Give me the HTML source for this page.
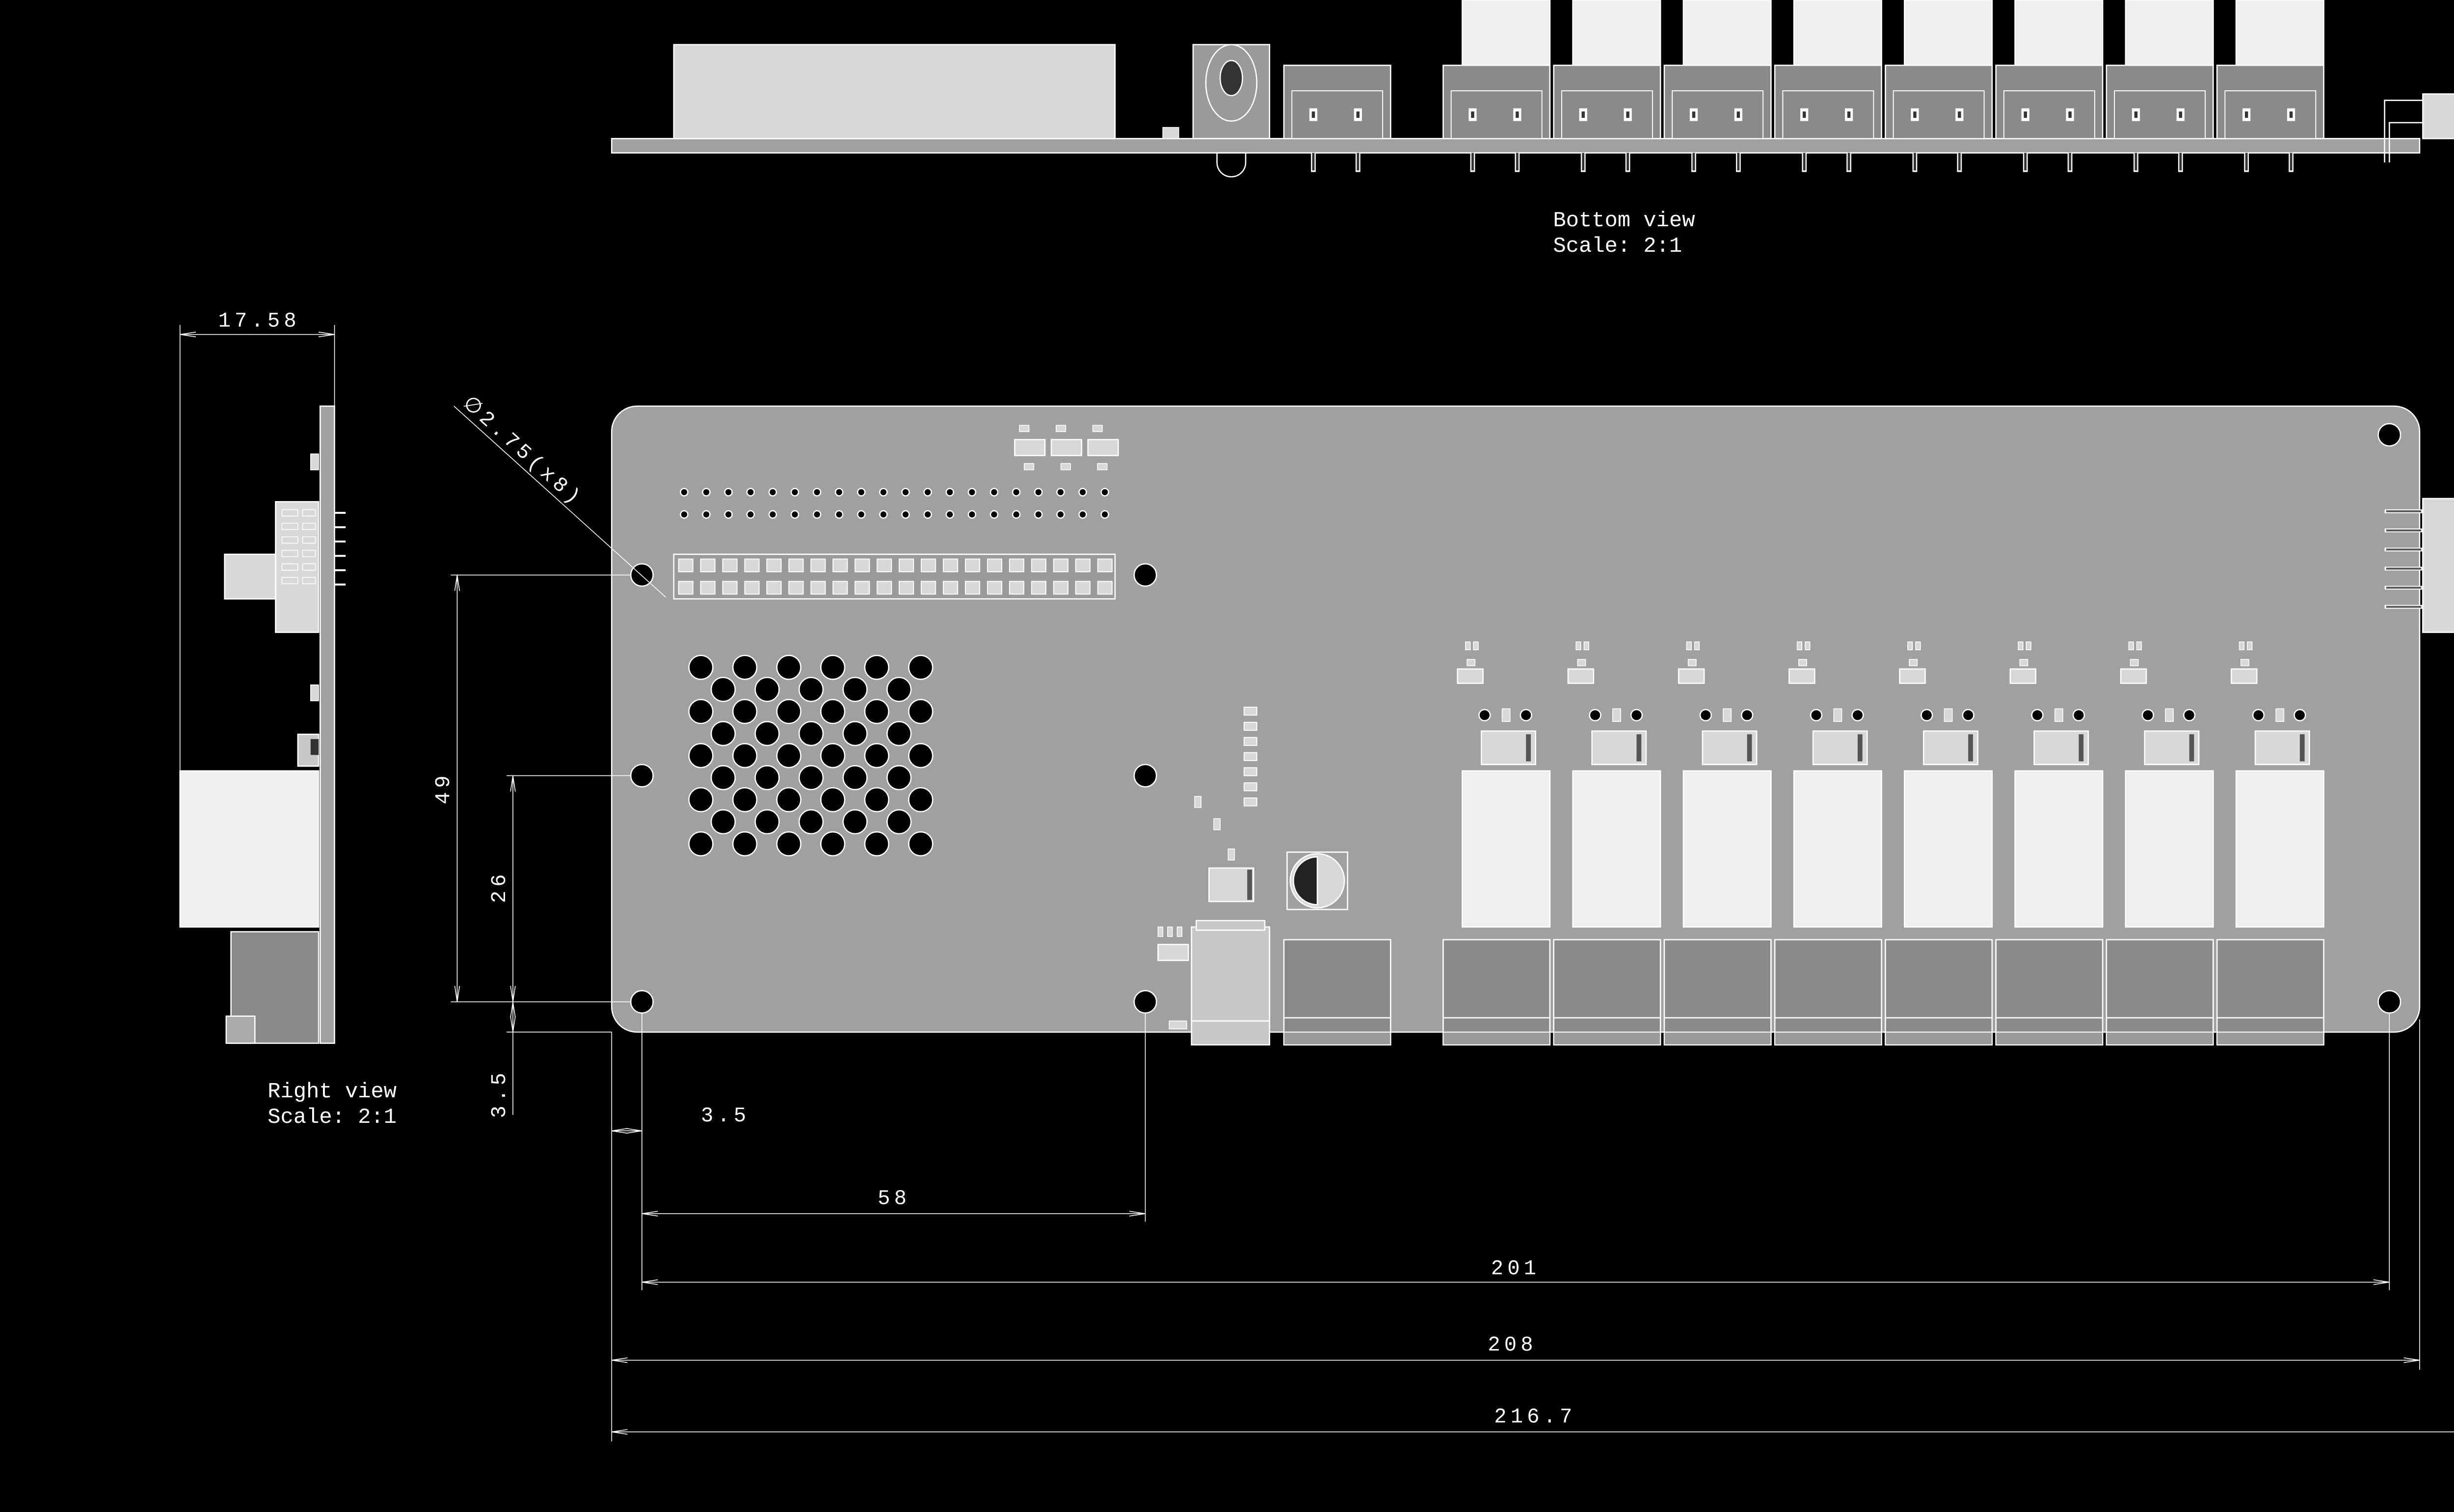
<!DOCTYPE html>
<html><head><meta charset="utf-8"><style>
html,body{margin:0;padding:0;background:#000;}
svg{display:block}
text{font-family:"Liberation Mono",monospace;fill:#fff;}
</style></head><body>
<svg id="s" width="5089" height="3081" viewBox="0 0 1568 949.3" xmlns="http://www.w3.org/2000/svg">
<defs><marker id="a" markerWidth="10" markerHeight="6" refX="10" refY="3" orient="auto-start-reverse" markerUnits="userSpaceOnUse"><path d="M0,1.5 L10,3 L0,4.5" fill="none" stroke="#fff" stroke-width="0.5"/></marker></defs>
<rect width="1568" height="950" fill="#000"/>
<g id="g" stroke="#fff" stroke-width="0.8"></g>
<g fill="none" stroke="#fff" stroke-width="0.5">
<line x1="113" y1="204" x2="113" y2="485"/><line x1="210" y1="204" x2="210" y2="258"/>
<line x1="283" y1="361" x2="396" y2="361"/>
<line x1="318" y1="487" x2="396" y2="487"/><line x1="322" y1="648" x2="322" y2="700"/>
<line x1="283" y1="629" x2="396" y2="629"/><line x1="318" y1="648" x2="384" y2="648"/>
<line x1="384" y1="648" x2="384" y2="905"/><line x1="403" y1="636" x2="403" y2="810"/>
<line x1="719" y1="636" x2="719" y2="767"/><line x1="1500" y1="636" x2="1500" y2="810"/>
<line x1="1519" y1="640" x2="1519" y2="860"/>
<line x1="285" y1="255" x2="418" y2="375"/>
</g>
<g fill="none" stroke="#fff" stroke-width="0.5" marker-start="url(#a)" marker-end="url(#a)">
<line x1="113" y1="210" x2="210" y2="210"/>
<line x1="287" y1="361" x2="287" y2="629"/>
<line x1="322" y1="487" x2="322" y2="629"/>
<line x1="322" y1="629" x2="322" y2="648"/>
<line x1="384" y1="710" x2="403" y2="710"/><line x1="403" y1="762" x2="719" y2="762"/>
<line x1="403" y1="805" x2="1500" y2="805"/><line x1="384" y1="854" x2="1519" y2="854"/>
<line x1="384" y1="899" x2="1568" y2="899"/>
</g>
<g font-size="13" letter-spacing="2.5">
<text x="137" y="205">17.58</text>
<text x="440" y="704">3.5</text>
<text x="551" y="756">58</text>
<text x="936" y="800">201</text>
<text x="934" y="848">208</text>
<text x="938" y="893">216.7</text>
<text transform="translate(282,505) rotate(-90)">49</text>
<text transform="translate(317,567) rotate(-90)">26</text>
<text transform="translate(317,702) rotate(-90)">3.5</text>
<text transform="translate(290,254) rotate(42)">∅2.75(x8)</text>
</g>
<g font-size="13.5">
<text x="975" y="142">Bottom view</text><text x="975" y="158">Scale:  2:1</text>
<text x="168" y="689">Right view</text><text x="168" y="705">Scale:  2:1</text>
</g>
</svg>
<script>
var g=document.getElementById('g'),h='';
function R(x,y,w,hh,f,sw){h+='<rect x="'+x+'" y="'+y+'" width="'+w+'" height="'+hh+'" fill="'+f+'"'+(sw!=null?' stroke-width="'+sw+'"':'')+'/>';}
function C(x,y,r,f){h+='<circle cx="'+x+'" cy="'+y+'" r="'+r+'" fill="'+(f||'#000')+'"/>';}
h+='<rect x="384" y="255" width="1135" height="393" rx="16" fill="#a0a0a0"/>';
[[403,361],[719,361],[403,487],[719,487],[403,629],[719,629],[1500,273],[1500,629]].forEach(p=>C(p[0],p[1],7));
for(var i=0;i<20;i++){C(429.5+13.9*i,309,2.3);C(429.5+13.9*i,323,2.3);}
R(423,348,277,28,'#9a9a9a');
for(var i=0;i<20;i++){R(426+13.85*i,351,9,8,'#d8d8d8',0.6);R(426+13.85*i,365,9,8,'#d8d8d8',0.6);}
for(var r=0;r<9;r++){var y=419+13.85*r;if(r%2==0){for(var k=0;k<6;k++)C(440+27.6*k,y,7.5);}else{for(var k=0;k<5;k++)C(454+27.6*k,y,7.5);}}
for(var k=0;k<3;k++){R(637+23*k,276,19,10,'#d8d8d8');R(640+23*k,267,6,4,'#d8d8d8',0.5);R(643+23*k,291,6,4,'#d8d8d8',0.5);}
for(var k=0;k<7;k++)R(781,444+9.5*k,8,5,'#d8d8d8',0.6);
R(750,500,4,7,'#d8d8d8',0.5);R(762,514,4,7,'#d8d8d8',0.5);R(771,533,4,7,'#d8d8d8',0.5);
R(759,545,28,21,'#d8d8d8');R(783,546,3,19,'#555',0);
R(727,582,3,6,'#d8d8d8',0.5);R(733,582,3,6,'#d8d8d8',0.5);R(739,582,3,6,'#d8d8d8',0.5);R(727,593,19,10,'#d8d8d8');
R(734,641,11,5,'#d8d8d8',0.5);
h+='<rect x="808" y="535" width="38" height="36" fill="#a0a0a0"/>';C(827,553,17,'#d8d8d8');h+='<path d="M812,553 a15,15 0 0 1 30,0 z" fill="#222" transform="rotate(-90 827 553)"/>';
R(748,582,49,74,'#c8c8c8');R(751,578,43,6,'#c8c8c8');h+='<line x1="748" y1="641" x2="797" y2="641"/>';
function TB(x){R(x,590,67,66,'#8a8a8a');h+='<line x1="'+x+'" y1="639" x2="'+(x+67)+'" y2="639"/>';R(x,648,67,8,'#9a9a9a',0.6);}
TB(806);
for(var c=0;c<8;c++){var o=c*69.4;
TB(906+o);
R(918+o,484,55,98,'#efefef');
R(930+o,459,34,21,'#d8d8d8');R(958+o,461,3,17,'#555',0);
C(932+o,449,3.5);C(958+o,449,3.5);R(943+o,445,5,8,'#d8d8d8',0.5);
R(915+o,420,16,9,'#d8d8d8');
R(920+o,403,3,5,'#d8d8d8',0.5);R(925+o,403,3,5,'#d8d8d8',0.5);R(921+o,414,5,4,'#d8d8d8',0.5);
}
for(var k=0;k<6;k++){var y=321+12*k;h+='<line x1="1497" y1="'+y+'" x2="1521" y2="'+y+'" stroke-width="2.4"/>';h+='<line x1="1498" y1="'+y+'" x2="1520" y2="'+y+'" stroke="#555" stroke-width="1.2"/>';}
R(1521,313,47,84,'#d8d8d8');
R(384,87,1135,9,'#a0a0a0');
R(423,28,277,59,'#d8d8d8');
R(749,28,48,59,'#9a9a9a');h+='<ellipse cx="773" cy="52" rx="16" ry="24" fill="#9a9a9a"/>';h+='<ellipse cx="773" cy="49" rx="7" ry="11" fill="#333"/>';
h+='<path d="M764,96 v6 a9,9 0 0 0 18,0 v-6z" fill="#000"/>';
R(730,80,10,7,'#d8d8d8',0.5);
function TT(x){R(x,41,67,46,'#8a8a8a');R(x+5,57,57,30,'#8a8a8a',0.6);
 [x+16,x+44].forEach(p=>{R(p,68,5,8,'#fff',0);R(p+1.5,70,2,4,'#333',0);h+='<line x1="'+(p+2.5)+'" y1="96" x2="'+(p+2.5)+'" y2="108" stroke-width="3"/>';h+='<line x1="'+(p+2.5)+'" y1="96" x2="'+(p+2.5)+'" y2="107" stroke="#333" stroke-width="1.5"/>';});}
TT(806);
for(var c=0;c<8;c++){var o=c*69.4;R(918+o,0,55,41,'#efefef');TT(906+o);}
h+='<path d="M1497,102 V63 h24 M1500,102 V77 h21" fill="none"/>';
R(1521,59,47,28,'#d8d8d8');
R(201,255,9,400,'#a0a0a0');
R(173,315,27,82,'#d8d8d8');R(141,348,32,28,'#d8d8d8');
for(var k=0;k<6;k++){R(177,320+8.5*k,10,4,'#d8d8d8',0.5);R(190,320+8.5*k,8,4,'#d8d8d8',0.5);h+='<line x1="210" y1="'+(322+9*k)+'" x2="217" y2="'+(322+9*k)+'" stroke-width="1.2"/>';}
R(113,484,87,98,'#efefef');
R(187,461,13,20,'#c8c8c8');R(195,464,5,10,'#333',0);
R(145,585,55,70,'#8a8a8a');R(142,638,18,17,'#aaa');
R(195,285,5,10,'#d8d8d8',0.5);R(195,430,5,10,'#d8d8d8',0.5);
g.innerHTML=h;
</script>
</body></html>
